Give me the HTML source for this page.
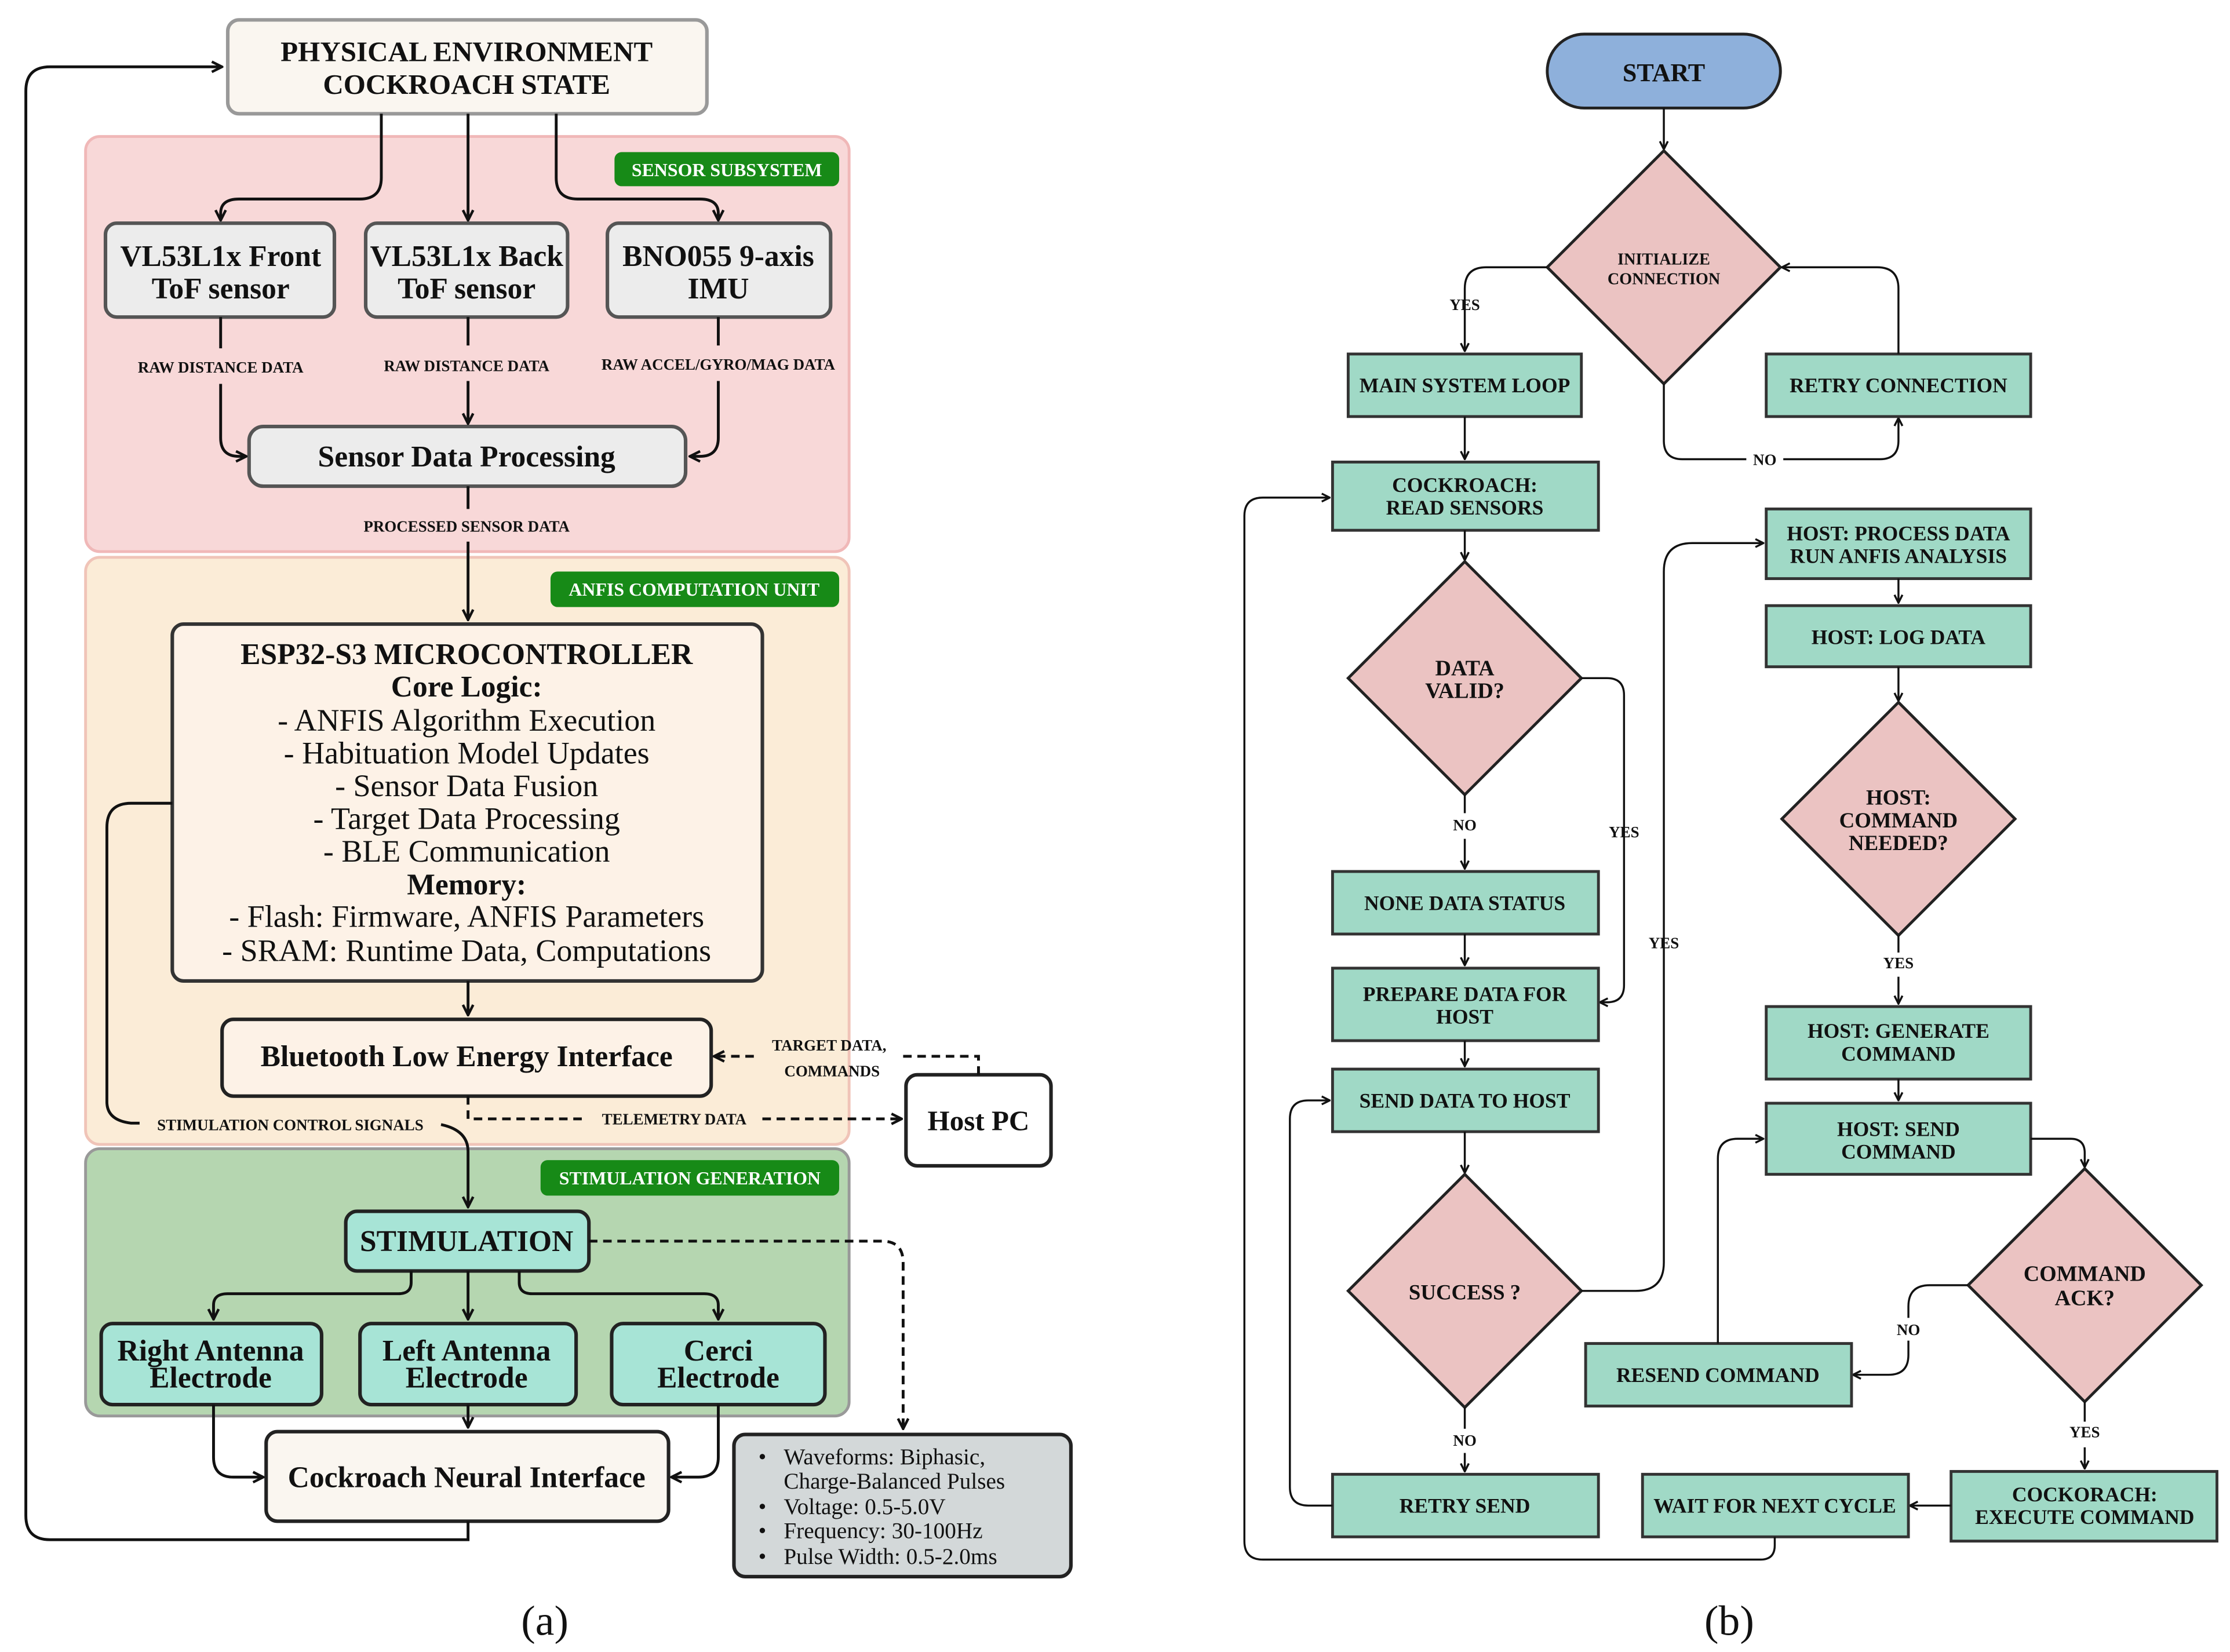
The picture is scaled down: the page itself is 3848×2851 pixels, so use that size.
<!DOCTYPE html>
<html><head><meta charset="utf-8"><style>
html,body{margin:0;padding:0;background:#fff}
svg{display:block}
text{font-family:"Liberation Serif",serif;font-weight:bold;fill:#111;text-anchor:middle}
.s{font-size:11px}
.r{font-weight:normal}
.ln{fill:none;stroke:#111;stroke-width:2}
.lt{fill:none;stroke:#111;stroke-width:1.4}
.d{fill:none;stroke:#111;stroke-width:2;stroke-dasharray:6 4}
.g{fill:#a0d9c6;stroke:#333;stroke-width:2}
.p{fill:#ebc3c2;stroke:#222;stroke-width:2}
.bt{font-size:14.5px}
.gl{fill:#fff;font-size:13px}
</style></head><body>
<svg width="3848" height="2851" viewBox="0 0 1568 1162" xmlns="http://www.w3.org/2000/svg">
<defs>
<marker id="a" viewBox="0 0 10 10" refX="9" refY="5" markerWidth="7" markerHeight="7" orient="auto-start-reverse" markerUnits="userSpaceOnUse"><path d="M1,1 L9,5 L1,9" fill="none" stroke="#111" stroke-width="2"/></marker>
<marker id="b" viewBox="0 0 10 10" refX="9" refY="5" markerWidth="9" markerHeight="9" orient="auto" markerUnits="userSpaceOnUse"><path d="M1,1 L9,5 L1,9" fill="none" stroke="#111" stroke-width="2"/></marker>
</defs>

<!-- ===== (a) ===== -->
<rect x="60" y="96" width="537" height="292" rx="10" fill="#f8d8d8" stroke="#f0b8b8" stroke-width="2"/>
<rect x="60" y="392" width="537" height="413" rx="10" fill="#fbecd7" stroke="#f0c4b8" stroke-width="2"/>
<rect x="60" y="808" width="537" height="188" rx="10" fill="#b5d6b0" stroke="#999" stroke-width="2"/>

<rect x="432" y="107" width="158" height="24" rx="5" fill="#178a17"/><text x="511" y="124" class="gl">SENSOR SUBSYSTEM</text>
<rect x="387" y="402" width="203" height="25" rx="5" fill="#178a17"/><text x="488" y="419" class="gl">ANFIS COMPUTATION UNIT</text>
<rect x="380" y="816" width="210" height="25" rx="5" fill="#178a17"/><text x="485" y="833" class="gl">STIMULATION GENERATION</text>

<rect x="160" y="14" width="337" height="66" rx="8" fill="#faf6f0" stroke="#999" stroke-width="2.5"/>
<text x="328" y="43" font-size="20">PHYSICAL ENVIRONMENT</text>
<text x="328" y="66" font-size="20">COCKROACH STATE</text>

<path class="ln" d="M268,80 V125 Q268,140 253,140 H168 Q155,140 155,150 V155" marker-end="url(#b)"/>
<path class="ln" d="M329,80 V155" marker-end="url(#b)"/>
<path class="ln" d="M391,80 V125 Q391,140 406,140 H492 Q505,140 505,150 V155" marker-end="url(#b)"/>

<g fill="#ececec" stroke="#555" stroke-width="2.5">
<rect x="74" y="157" width="161" height="66" rx="8"/>
<rect x="257" y="157" width="142" height="66" rx="8"/>
<rect x="427" y="157" width="157" height="66" rx="8"/>
<rect x="175" y="300" width="307" height="42" rx="10"/>
</g>
<text x="155" y="187" font-size="21">VL53L1x Front</text><text x="155" y="210" font-size="21">ToF sensor</text>
<text x="328" y="187" font-size="21">VL53L1x Back</text><text x="328" y="210" font-size="21">ToF sensor</text>
<text x="505" y="187" font-size="21">BNO055 9-axis</text><text x="505" y="210" font-size="21">IMU</text>
<text x="155" y="262" class="s">RAW DISTANCE DATA</text>
<text x="328" y="261" class="s">RAW DISTANCE DATA</text>
<text x="505" y="260" class="s">RAW ACCEL/GYRO/MAG DATA</text>
<path class="ln" d="M155,223 V245 M155,270 V308 Q155,321 168,321 H173" marker-end="url(#b)"/>
<path class="ln" d="M329,223 V243 M329,268 V298" marker-end="url(#b)"/>
<path class="ln" d="M505,223 V243 M505,268 V308 Q505,321 492,321 H485" marker-end="url(#b)"/>
<text x="328" y="328" font-size="21">Sensor Data Processing</text>
<text x="328" y="374" class="s">PROCESSED SENSOR DATA</text>
<path class="ln" d="M329,342 V358 M329,381 V436" marker-end="url(#b)"/>

<rect x="121" y="439" width="415" height="251" rx="8" fill="#fdf2e7" stroke="#333" stroke-width="2.5"/>
<text x="328" y="467" font-size="21">ESP32-S3 MICROCONTROLLER</text>
<text x="328" y="490" font-size="21">Core Logic:</text>
<text x="328" y="514" font-size="22" class="r">- ANFIS Algorithm Execution</text>
<text x="328" y="537" font-size="22" class="r">- Habituation Model Updates</text>
<text x="328" y="560" font-size="22" class="r">- Sensor Data Fusion</text>
<text x="328" y="583" font-size="22" class="r">- Target Data Processing</text>
<text x="328" y="606" font-size="22" class="r">- BLE Communication</text>
<text x="328" y="629" font-size="21">Memory:</text>
<text x="328" y="652" font-size="22" class="r">- Flash: Firmware, ANFIS Parameters</text>
<text x="328" y="676" font-size="22" class="r">- SRAM: Runtime Data, Computations</text>
<path class="ln" d="M329,690 V714" marker-end="url(#b)"/>

<rect x="156" y="717" width="344" height="54" rx="8" fill="#fdf2e7" stroke="#222" stroke-width="2.5"/>
<text x="328" y="750" font-size="21">Bluetooth Low Energy Interface</text>
<rect x="637" y="756" width="102" height="64" rx="8" fill="#fff" stroke="#222" stroke-width="2.5"/>
<text x="688" y="795" font-size="20">Host PC</text>
<path class="d" d="M688,756 V743 H634 M530,743 H502" marker-end="url(#b)"/>
<text x="583" y="739" class="s">TARGET DATA,</text><text x="585" y="757" class="s">COMMANDS</text>
<path class="d" d="M329,771 V787 H412 M536,787 H634" marker-end="url(#b)"/>
<text x="474" y="791" class="s">TELEMETRY DATA</text>

<path class="ln" d="M121,565 H92 Q75,565 75,582 V775 Q75,788 92,790 H98"/>
<text x="204" y="795" class="s">STIMULATION CONTROL SIGNALS</text>
<path class="ln" d="M310,791 Q329,795 329,810 V849" marker-end="url(#b)"/>

<rect x="243" y="852" width="171" height="42" rx="8" fill="#a7e4d6" stroke="#222" stroke-width="2.5"/>
<text x="328" y="880" font-size="21">STIMULATION</text>
<path class="d" d="M414,873 H620 Q635,873 635,888 V1005" marker-end="url(#b)"/>
<path class="ln" d="M289,894 V902 Q289,910 280,910 H160 Q150,910 150,918 V928" marker-end="url(#b)"/>
<path class="ln" d="M329,894 V928" marker-end="url(#b)"/>
<path class="ln" d="M365,894 V902 Q365,910 374,910 H495 Q505,910 505,918 V928" marker-end="url(#b)"/>
<g fill="#a7e4d6" stroke="#222" stroke-width="2.5">
<rect x="71" y="931" width="155" height="57" rx="8"/>
<rect x="253" y="931" width="152" height="57" rx="8"/>
<rect x="430" y="931" width="150" height="57" rx="8"/>
</g>
<text x="148" y="957" font-size="21">Right Antenna</text><text x="148" y="976" font-size="21">Electrode</text>
<text x="328" y="957" font-size="21">Left Antenna</text><text x="328" y="976" font-size="21">Electrode</text>
<text x="505" y="957" font-size="21">Cerci</text><text x="505" y="976" font-size="21">Electrode</text>
<path class="ln" d="M150,988 V1025 Q150,1039 164,1039 H185" marker-end="url(#b)"/>
<path class="ln" d="M329,988 V1004" marker-end="url(#b)"/>
<path class="ln" d="M505,988 V1025 Q505,1039 491,1039 H472" marker-end="url(#b)"/>
<rect x="187" y="1007" width="283" height="63" rx="8" fill="#faf6f0" stroke="#222" stroke-width="2.5"/>
<text x="328" y="1046" font-size="21">Cockroach Neural Interface</text>
<rect x="516" y="1009" width="237" height="100" rx="8" fill="#d3d8d9" stroke="#222" stroke-width="2.5"/>
<g font-size="16">
<text x="536" y="1030" class="r">•</text><text x="551" y="1030" class="r" style="text-anchor:start">Waveforms: Biphasic,</text>
<text x="551" y="1047" class="r" style="text-anchor:start">Charge-Balanced Pulses</text>
<text x="536" y="1065" class="r">•</text><text x="551" y="1065" class="r" style="text-anchor:start">Voltage: 0.5-5.0V</text>
<text x="536" y="1082" class="r">•</text><text x="551" y="1082" class="r" style="text-anchor:start">Frequency: 30-100Hz</text>
<text x="536" y="1100" class="r">•</text><text x="551" y="1100" class="r" style="text-anchor:start">Pulse Width: 0.5-2.0ms</text>
</g>
<path class="ln" d="M329,1070 V1083 H35 Q18,1083 18,1066 V64 Q18,47 35,47 H156" marker-end="url(#b)"/>
<text x="383" y="1150" font-size="30" class="r">(a)</text>

<!-- ===== (b) ===== -->
<rect x="1088" y="24" width="164" height="52" rx="26" fill="#8eb0db" stroke="#222" stroke-width="2"/>
<text x="1170" y="57" font-size="18">START</text>
<path class="lt" d="M1170,76 V105" marker-end="url(#a)"/>
<polygon class="p" points="1170,106 1252,188 1170,270 1088,188"/>
<text x="1170" y="186" font-size="11.5">INITIALIZE</text><text x="1170" y="200" font-size="11.5">CONNECTION</text>
<path class="lt" d="M1088,188 H1045 Q1030,188 1030,203 V247" marker-end="url(#a)"/>
<text x="1030" y="218" class="s">YES</text>
<rect class="g" x="948" y="249" width="164" height="44"/><text x="1030" y="276" class="bt">MAIN SYSTEM LOOP</text>
<path class="lt" d="M1170,270 V310 Q1170,323 1183,323 H1228 M1254,323 H1322 Q1335,323 1335,310 V294" marker-end="url(#a)"/>
<text x="1241" y="327" class="s">NO</text>
<rect class="g" x="1242" y="249" width="186" height="44"/><text x="1335" y="276" class="bt">RETRY CONNECTION</text>
<path class="lt" d="M1335,249 V203 Q1335,188 1320,188 H1253" marker-end="url(#a)"/>
<path class="lt" d="M1030,293 V323" marker-end="url(#a)"/>
<rect class="g" x="937" y="325" width="187" height="48"/><text x="1030" y="346" class="bt">COCKROACH:</text><text x="1030" y="362" class="bt">READ SENSORS</text>
<path class="lt" d="M1030,373 V394" marker-end="url(#a)"/>
<polygon class="p" points="1030,395 1112,477 1030,559 948,477"/>
<text x="1030" y="475" font-size="15.5">DATA</text><text x="1030" y="491" font-size="15.5">VALID?</text>
<path class="lt" d="M1112,477 H1130 Q1142,477 1142,489 V693 Q1142,705 1130,705 H1125" marker-end="url(#a)"/>
<text x="1142" y="589" class="s">YES</text>
<path class="lt" d="M1030,559 V572 M1030,590 V611" marker-end="url(#a)"/>
<text x="1030" y="584" class="s">NO</text>
<rect class="g" x="937" y="613" width="187" height="44"/><text x="1030" y="640" class="bt">NONE DATA STATUS</text>
<path class="lt" d="M1030,657 V679" marker-end="url(#a)"/>
<rect class="g" x="937" y="681" width="187" height="51"/><text x="1030" y="704" class="bt">PREPARE DATA FOR</text><text x="1030" y="720" class="bt">HOST</text>
<path class="lt" d="M1030,732 V750" marker-end="url(#a)"/>
<rect class="g" x="937" y="752" width="187" height="44"/><text x="1030" y="779" class="bt">SEND DATA TO HOST</text>
<path class="lt" d="M1030,796 V825" marker-end="url(#a)"/>
<polygon class="p" points="1030,826 1112,908 1030,990 948,908"/>
<text x="1030" y="914" font-size="15">SUCCESS ?</text>
<path class="lt" d="M1112,908 H1150 Q1170,908 1170,888 V402 Q1170,382 1190,382 H1240" marker-end="url(#a)"/>
<text x="1170" y="667" class="s">YES</text>
<path class="lt" d="M1030,990 V1005 M1030,1022 V1035" marker-end="url(#a)"/>
<text x="1030" y="1017" class="s">NO</text>
<rect class="g" x="937" y="1037" width="187" height="44"/><text x="1030" y="1064" class="bt">RETRY SEND</text>
<path class="lt" d="M937,1059 H920 Q907,1059 907,1046 V787 Q907,774 920,774 H935" marker-end="url(#a)"/>

<rect class="g" x="1242" y="358" width="186" height="49"/><text x="1335" y="380" class="bt">HOST: PROCESS DATA</text><text x="1335" y="396" class="bt">RUN ANFIS ANALYSIS</text>
<path class="lt" d="M1335,407 V424" marker-end="url(#a)"/>
<rect class="g" x="1242" y="426" width="186" height="43"/><text x="1335" y="453" class="bt">HOST: LOG DATA</text>
<path class="lt" d="M1335,469 V493" marker-end="url(#a)"/>
<polygon class="p" points="1335,494 1417,576 1335,658 1253,576"/>
<text x="1335" y="566" font-size="15">HOST:</text><text x="1335" y="582" font-size="15">COMMAND</text><text x="1335" y="598" font-size="15">NEEDED?</text>
<path class="lt" d="M1335,658 V670 M1335,687 V706" marker-end="url(#a)"/>
<text x="1335" y="681" class="s">YES</text>
<rect class="g" x="1242" y="708" width="186" height="51"/><text x="1335" y="730" class="bt">HOST: GENERATE</text><text x="1335" y="746" class="bt">COMMAND</text>
<path class="lt" d="M1335,759 V774" marker-end="url(#a)"/>
<rect class="g" x="1242" y="776" width="186" height="50"/><text x="1335" y="799" class="bt">HOST: SEND</text><text x="1335" y="815" class="bt">COMMAND</text>
<path class="lt" d="M1428,801 H1456 Q1466,801 1466,811 V821" marker-end="url(#a)"/>
<polygon class="p" points="1466,822 1548,904 1466,986 1384,904"/>
<text x="1466" y="901" font-size="15.5">COMMAND</text><text x="1466" y="918" font-size="15.5">ACK?</text>
<path class="lt" d="M1384,904 H1357 Q1342,904 1342,919 V927 M1342,943 V953 Q1342,967 1328,967 H1303" marker-end="url(#a)"/>
<text x="1342" y="939" class="s">NO</text>
<rect class="g" x="1115" y="945" width="187" height="44"/><text x="1208" y="972" class="bt">RESEND COMMAND</text>
<path class="lt" d="M1208,945 V815 Q1208,801 1222,801 H1240" marker-end="url(#a)"/>
<path class="lt" d="M1466,986 V1000 M1466,1018 V1033" marker-end="url(#a)"/>
<text x="1466" y="1011" class="s">YES</text>
<rect class="g" x="1372" y="1035" width="187" height="49"/><text x="1466" y="1056" class="bt">COCKORACH:</text><text x="1466" y="1072" class="bt">EXECUTE COMMAND</text>
<path class="lt" d="M1372,1059 H1343" marker-end="url(#a)"/>
<rect class="g" x="1155" y="1037" width="187" height="44"/><text x="1248" y="1064" class="bt">WAIT FOR NEXT CYCLE</text>
<path class="lt" d="M1248,1081 V1087 Q1248,1097 1238,1097 H888 Q875,1097 875,1084 V363 Q875,350 888,350 H935" marker-end="url(#a)"/>
<text x="1216" y="1150" font-size="30" class="r">(b)</text>
</svg>
</body></html>
